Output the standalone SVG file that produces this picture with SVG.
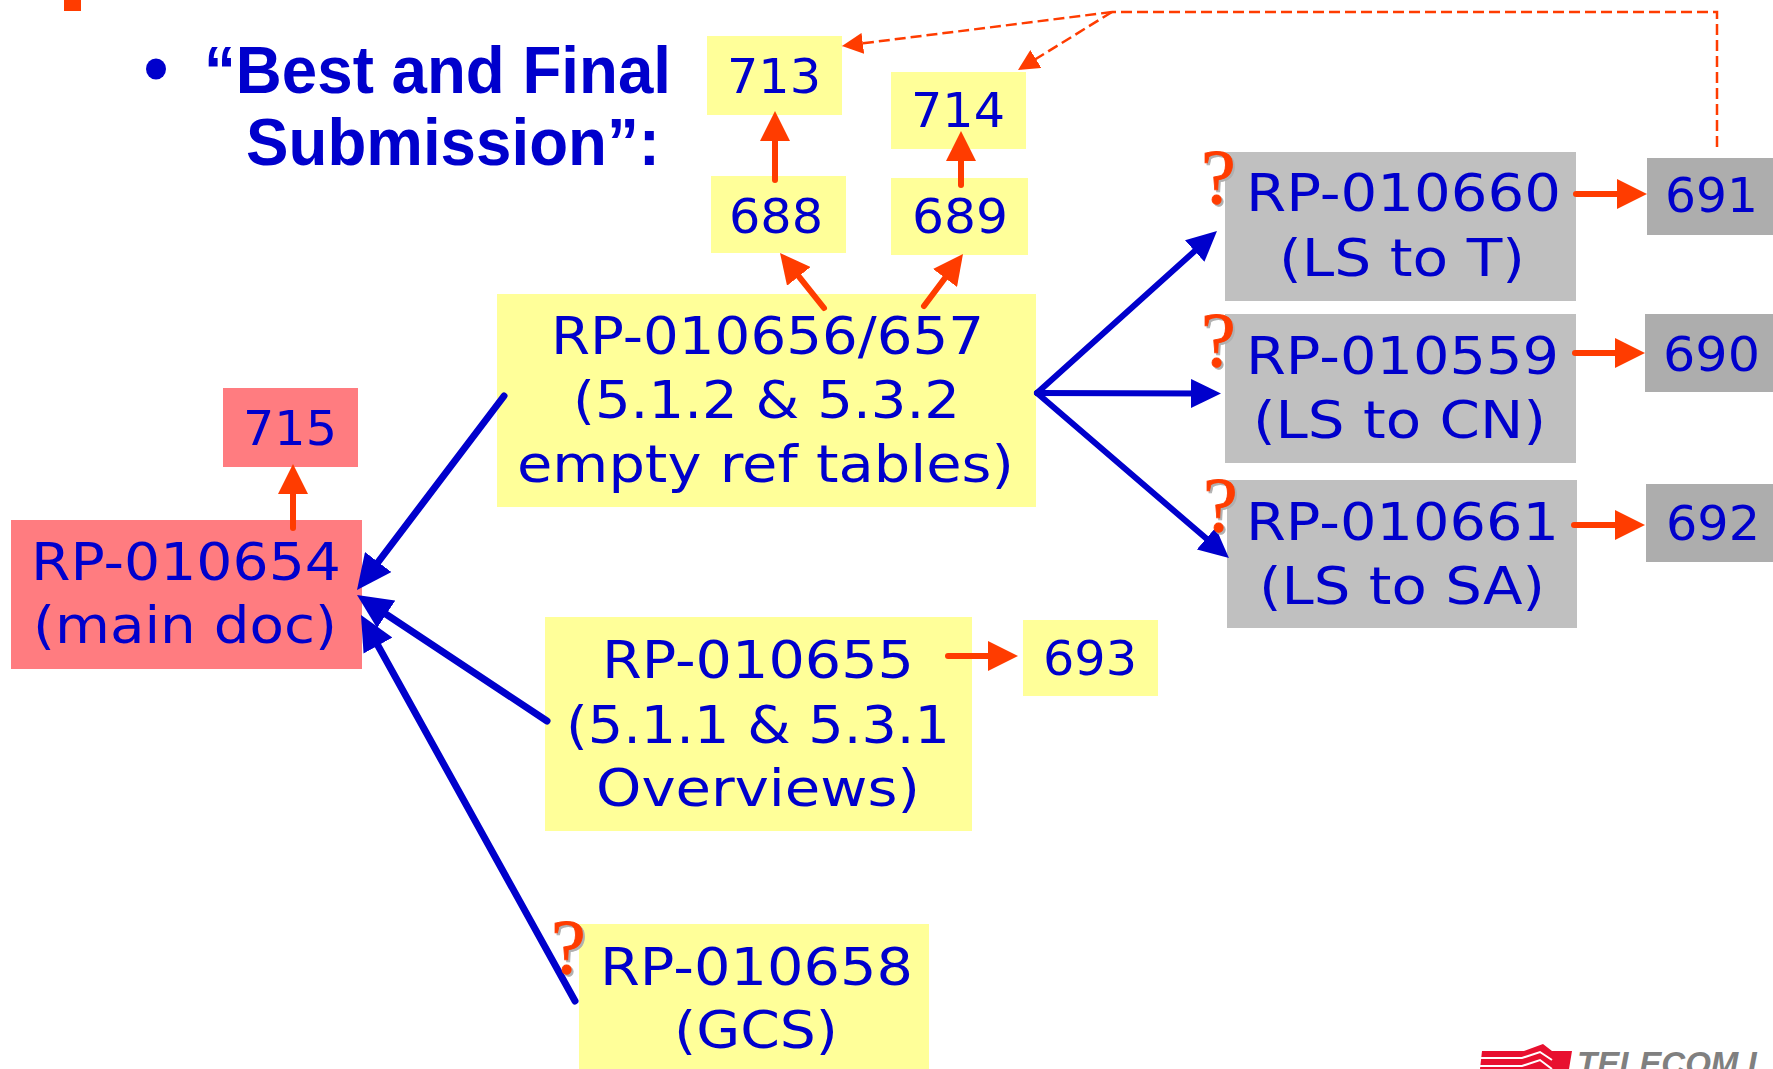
<svg xmlns="http://www.w3.org/2000/svg" width="1773" height="1069" viewBox="0 0 1773 1069">
<style>
.t{font-family:"DejaVu Sans",Verdana,sans-serif;font-size:51px;fill:#0000cc}
.l{font-family:"DejaVu Sans",Verdana,sans-serif;font-size:48px;fill:#0000cc}
.b{font-family:"Liberation Sans",Arial,sans-serif;font-weight:700;font-size:67px;fill:#0000cc}
.y{fill:#ffff99}.g{fill:#c0c0c0}.d{fill:#adadad}.p{fill:#ff7c80}
.q{font-family:"Liberation Serif","Times New Roman",serif;font-size:78px;stroke-width:.8}
.s{fill:#b0b0b0;stroke:#b0b0b0}.o{fill:#ff3c00;stroke:#ff3c00}
.bl{stroke:#0000cc;fill:none;stroke-linecap:round}
.or{stroke:#ff3c00;fill:none;stroke-linecap:round;stroke-width:6}
.da{stroke:#ff3c00;fill:none;stroke-width:2.500;stroke-dasharray:11 5}
</style>
<defs>
<marker id="ab" viewBox="0 0 35 33" refX="15" refY="16.500" markerWidth="35" markerHeight="33" markerUnits="userSpaceOnUse" orient="auto"><path d="M0 0L35 16.500L0 33z" fill="#0000cc"/></marker>
<marker id="ac" viewBox="0 0 30 29" refX="14" refY="14.500" markerWidth="30" markerHeight="29" markerUnits="userSpaceOnUse" orient="auto"><path d="M0 0L30 14.500L0 29z" fill="#0000cc"/></marker>
<marker id="ao" viewBox="0 0 30 30" refX="15" refY="15" markerWidth="30" markerHeight="30" markerUnits="userSpaceOnUse" orient="auto"><path d="M0 0L30 15L0 30z" fill="#ff3c00"/></marker>
<marker id="ad" viewBox="0 0 21 21" refX="21" refY="10.500" markerWidth="21" markerHeight="21" markerUnits="userSpaceOnUse" orient="auto"><path d="M0 0L21 10.500L0 21z" fill="#ff3c00"/></marker>
</defs>
<rect x="64" y="0" width="17" height="11" fill="#ff3c00"/>
<g id="title">
<ellipse cx="156" cy="69" rx="10" ry="10.500" fill="#0000cc"/>
<text class="b" x="204" y="92.500" textLength="467" lengthAdjust="spacingAndGlyphs">“Best and Final</text>
<text class="b" x="246" y="164.500" textLength="414" lengthAdjust="spacingAndGlyphs">Submission”:</text>
</g>
<g id="n713"><rect class="y" x="707" y="36" width="135" height="79"/><text class="l" x="727" y="93" textLength="94" lengthAdjust="spacingAndGlyphs">713</text></g>
<g id="n714"><rect class="y" x="891" y="72" width="135" height="77"/><text class="l" x="911" y="127" textLength="94" lengthAdjust="spacingAndGlyphs">714</text></g>
<g id="n688"><rect class="y" x="711" y="176" width="135" height="77"/><text class="l" x="729" y="233" textLength="94" lengthAdjust="spacingAndGlyphs">688</text></g>
<g id="n689"><rect class="y" x="891" y="178" width="137" height="77"/><text class="l" x="912" y="233" textLength="96" lengthAdjust="spacingAndGlyphs">689</text></g>
<g id="n656"><rect class="y" x="497" y="294" width="539" height="213"/>
<text class="t" x="551" y="354" textLength="433" lengthAdjust="spacingAndGlyphs">RP-010656/657</text>
<text class="t" x="573" y="418" textLength="387" lengthAdjust="spacingAndGlyphs">(5.1.2 &amp; 5.3.2</text>
<text class="t" x="517" y="482" textLength="497" lengthAdjust="spacingAndGlyphs">empty ref tables)</text></g>
<g id="n715"><rect class="p" x="223" y="388" width="135" height="79"/><text class="l" x="243" y="445" textLength="94" lengthAdjust="spacingAndGlyphs">715</text></g>
<g id="n654"><rect class="p" x="11" y="520" width="351" height="149"/>
<text class="t" x="31" y="580" textLength="310" lengthAdjust="spacingAndGlyphs">RP-010654</text>
<text class="t" x="33" y="643" textLength="304" lengthAdjust="spacingAndGlyphs">(main doc)</text></g>
<g id="n655"><rect class="y" x="545" y="617" width="427" height="214"/>
<text class="t" x="602" y="678" textLength="312" lengthAdjust="spacingAndGlyphs">RP-010655</text>
<text class="t" x="566" y="743" textLength="384" lengthAdjust="spacingAndGlyphs">(5.1.1 &amp; 5.3.1</text>
<text class="t" x="596" y="806" textLength="324" lengthAdjust="spacingAndGlyphs">Overviews)</text></g>
<g id="n693"><rect class="y" x="1023" y="620" width="135" height="76"/><text class="l" x="1043" y="675" textLength="94" lengthAdjust="spacingAndGlyphs">693</text></g>
<g id="n658"><rect class="y" x="579" y="924" width="350" height="145"/>
<text class="t" x="600" y="985" textLength="313" lengthAdjust="spacingAndGlyphs">RP-010658</text>
<text class="t" x="674" y="1048" textLength="164" lengthAdjust="spacingAndGlyphs">(GCS)</text></g>
<g id="n660"><rect class="g" x="1225" y="152" width="351" height="149"/>
<text class="t" x="1246" y="211" textLength="315" lengthAdjust="spacingAndGlyphs">RP-010660</text>
<text class="t" x="1279" y="276" textLength="246" lengthAdjust="spacingAndGlyphs">(LS to T)</text></g>
<g id="n559"><rect class="g" x="1225" y="314" width="351" height="149"/>
<text class="t" x="1246" y="374" textLength="313" lengthAdjust="spacingAndGlyphs">RP-010559</text>
<text class="t" x="1253" y="438" textLength="293" lengthAdjust="spacingAndGlyphs">(LS to CN)</text></g>
<g id="n661"><rect class="g" x="1227" y="480" width="350" height="148"/>
<text class="t" x="1246" y="540" textLength="313" lengthAdjust="spacingAndGlyphs">RP-010661</text>
<text class="t" x="1259" y="604" textLength="286" lengthAdjust="spacingAndGlyphs">(LS to SA)</text></g>
<g id="n691"><rect class="d" x="1647" y="158" width="126" height="77"/><text class="l" x="1665" y="212" textLength="93" lengthAdjust="spacingAndGlyphs">691</text></g>
<g id="n690"><rect class="d" x="1645" y="314" width="128" height="78"/><text class="l" x="1663" y="371" textLength="97" lengthAdjust="spacingAndGlyphs">690</text></g>
<g id="n692"><rect class="d" x="1646" y="484" width="127" height="78"/><text class="l" x="1666" y="540" textLength="94" lengthAdjust="spacingAndGlyphs">692</text></g>
<g id="connectors">
<path class="bl" stroke-width="7" marker-end="url(#ab)" d="M504 396L369.100 574"/>
<path class="bl" stroke-width="7" marker-end="url(#ab)" d="M547 721L373.700 606"/>
<path class="bl" stroke-width="7" marker-end="url(#ab)" d="M575 1001L370.700 632.500"/>
<path class="bl" stroke-width="6" marker-end="url(#ac)" d="M1037 393L1205.100 241.700"/>
<path class="bl" stroke-width="6" marker-end="url(#ac)" d="M1037 393L1205 393.500"/>
<path class="bl" stroke-width="6" marker-end="url(#ac)" d="M1037 393L1216.800 547.600"/>
<path class="or" marker-end="url(#ao)" d="M293 528V479"/>
<path class="or" marker-end="url(#ao)" d="M775 180V126"/>
<path class="or" marker-end="url(#ao)" d="M961 185V146"/>
<path class="or" marker-end="url(#ao)" d="M824 308L789.400 264.700"/>
<path class="or" marker-end="url(#ao)" d="M924 306L954 266"/>
<path class="or" marker-end="url(#ao)" d="M1576 194H1632"/>
<path class="or" marker-end="url(#ao)" d="M1575 353H1630"/>
<path class="or" marker-end="url(#ao)" d="M1574 525H1630"/>
<path class="or" marker-end="url(#ao)" d="M948 656H1003"/>
<path class="da" d="M1717 147V12H1112"/>
<path class="da" marker-end="url(#ad)" d="M1112 12L842 46"/>
<path class="da" marker-end="url(#ad)" d="M1112 12L1018 70"/>
</g>
<g id="marks" class="q">
<text class="s" x="1203" y="205">?</text><text class="o" x="1201" y="203">?</text>
<text class="s" x="1203" y="368">?</text><text class="o" x="1201" y="366">?</text>
<text class="s" x="1205" y="533">?</text><text class="o" x="1203" y="531">?</text>
<text class="s" x="553" y="975">?</text><text class="o" x="551" y="973">?</text>
</g>
<g id="logo">
<path d="M1482 1051H1524L1543 1044L1552 1051H1572L1569 1069H1480z" fill="#e8102f"/>
<path d="M1480 1058H1522L1540 1052L1552 1060M1478 1066H1522L1540 1060L1552 1069" stroke="#fff" stroke-width="2" fill="none"/>
<text x="1577" y="1075" font-family="Liberation Sans,sans-serif" font-weight="700" font-style="italic" font-size="33" fill="#808080">TELECOM I</text>
</g>
</svg>
